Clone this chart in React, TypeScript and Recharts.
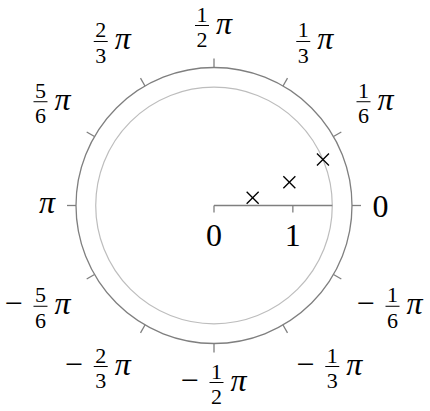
import React from "react";
import { RadarChart, Radar, PolarAngleAxis, PolarRadiusAxis, PolarGrid } from "recharts";

// Data points (theta in radians, radius)
const THETA = [0.2, 0.3, 0.4];
const RADIUS = [0.5, 1.0, 1.5];

// Angle tick labels as fractions of pi
const ANGLE_TICK_NUM = [-5, -2, -1, -1, -1, 0, 1, 1, 1, 2, 5, 1];
const ANGLE_TICK_DEN = [6, 3, 2, 3, 6, 1, 6, 3, 2, 3, 6, 1];

// Radius axis
const RADIUS_TICKS = [0, 1, 1.5];
const RADIUS_TICK_LABELS = ["0", "1", ""];
const GRID_RADII = [1.5];
const RADIUS_DOMAIN = [0, 1.75];

const ANGLE_TICKS = ANGLE_TICK_NUM.map((n, i) => (n / ANGLE_TICK_DEN[i]) * Math.PI);
const data = THETA.map((t, i) => ({ theta: t, r: RADIUS[i] }));

const SERIF = "Liberation Serif";
const AXIS_GRAY = "#7f7f7f";

const g = (t: number) => Math.max(-1, Math.min(1, 2 * t));

const AngleTick = (props: any) => {
  const { x, y, index, payload } = props;
  const num = ANGLE_TICK_NUM[index];
  const den = ANGLE_TICK_DEN[index];
  const rad = (payload.coordinate * Math.PI) / 180;
  const c = Math.cos(rad);
  const s = Math.sin(rad);
  const extra = 11.5 + 7 * Math.abs(Math.sin(2 * rad));
  const px = x + extra * c;
  const py = y - extra * s;
  let W: number;
  let H: number;
  if (num === 0) {
    W = 16;
    H = 22;
  } else if (den === 1) {
    W = 17;
    H = 15;
  } else {
    W = num < 0 ? 67 : 38;
    H = 40;
  }
  const lx = px + (W / 2) * g(c);
  const ly = py - (H / 2) * g(s);
  if (num === 0) {
    return (
      <text x={lx} y={ly + 11} textAnchor="middle" fontSize={32} fontFamily={SERIF} fill="#000" stroke="none">
        0
      </text>
    );
  }
  if (den === 1) {
    return (
      <text x={lx} y={ly + 7.5} textAnchor="middle" fontSize={32} fontStyle="italic" fontFamily={SERIF} fill="#000" stroke="none">
        π
      </text>
    );
  }
  const neg = num < 0;
  const x0 = lx - W / 2;
  const bar = ly - 1.5;
  const fx = x0 + (neg ? 29 : 0);
  return (
    <g fontFamily={SERIF} fill="#000" stroke="none">
      {neg && (
        <text x={x0} y={bar + 8} fontSize={32}>
          −
        </text>
      )}
      <text x={fx + 7} y={bar - 4} textAnchor="middle" fontSize={22}>
        {Math.abs(num)}
      </text>
      <line x1={fx} x2={fx + 14} y1={bar} y2={bar} stroke="#000" strokeWidth={1} />
      <text x={fx + 7} y={bar + 21.5} textAnchor="middle" fontSize={22}>
        {den}
      </text>
      <text x={fx + 21} y={bar + 8} fontSize={32} fontStyle="italic">
        π
      </text>
    </g>
  );
};

const RadiusTick = (props: any) => {
  const { x, y, index } = props;
  const label = RADIUS_TICK_LABELS[index];
  if (!label) return <g />;
  return (
    <g>
      <line x1={x} y1={y} x2={x} y2={y + 7} stroke={AXIS_GRAY} strokeWidth={1.3} />
      <text x={x} y={y + 40.5} textAnchor="middle" fontSize={32} fontFamily={SERIF} fill="#000" stroke="none">
        {label}
      </text>
    </g>
  );
};

const Cross = (props: any) => {
  const { cx, cy, index } = props;
  const h = 6;
  return (
    <g key={`cross-${index}`}>
      <line x1={cx - h} y1={cy - h} x2={cx + h} y2={cy + h} stroke="#000" strokeWidth={1.3} />
      <line x1={cx - h} y1={cy + h} x2={cx + h} y2={cy - h} stroke="#000" strokeWidth={1.3} />
    </g>
  );
};

export default function App() {
  return (
    <div style={{ position: "absolute", left: 0, top: 0, width: 430, height: 411, background: "#fff" }}>
      <RadarChart
        width={430}
        height={411}
        data={data}
        cx={214}
        cy={205.5}
        innerRadius={0}
        outerRadius={138}
        startAngle={-180}
        endAngle={180}
        margin={{ top: 0, right: 0, bottom: 0, left: 0 }}
      >
        <PolarGrid gridType="circle" radialLines={false} radiusAxisId="grid" stroke="#bdbdbd" strokeWidth={1.2} />
        <PolarAngleAxis
          dataKey="theta"
          type="number"
          domain={[-Math.PI, Math.PI]}
          allowDataOverflow
          ticks={ANGLE_TICKS}
          axisLineType="circle"
          axisLine={{ stroke: AXIS_GRAY, strokeWidth: 1.3 }}
          tickLine={{ stroke: AXIS_GRAY, strokeWidth: 1.3 }}
          tickSize={9}
          tick={AngleTick}
        />
        <PolarRadiusAxis
          radiusAxisId={0}
          angle={0}
          type="number"
          domain={RADIUS_DOMAIN}
          allowDataOverflow
          allowDecimals
          ticks={RADIUS_TICKS}
          axisLine={{ stroke: AXIS_GRAY, strokeWidth: 1.3 }}
          tickLine={false}
          tick={RadiusTick}
        />
        <PolarRadiusAxis
          radiusAxisId="grid"
          angle={0}
          type="number"
          domain={RADIUS_DOMAIN}
          allowDataOverflow
          allowDecimals
          ticks={GRID_RADII}
          axisLine={false}
          tickLine={false}
          tick={false}
        />
        <Radar dataKey="r" stroke="none" fill="none" fillOpacity={0} dot={Cross} isAnimationActive={false} />
      </RadarChart>
    </div>
  );
}
